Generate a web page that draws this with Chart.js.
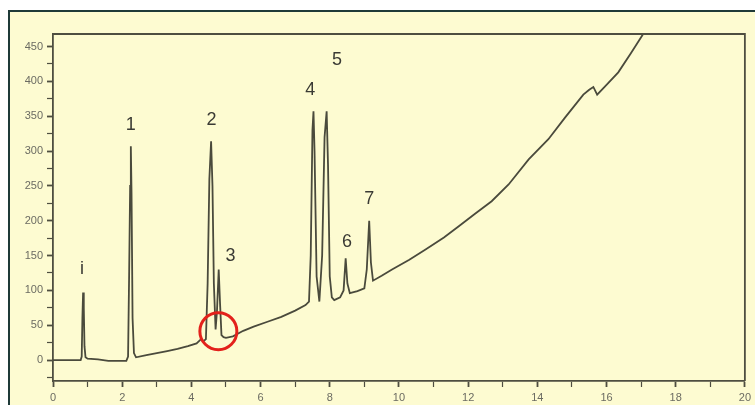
<!DOCTYPE html>
<html>
<head>
<meta charset="utf-8">
<script src="https://cdn.jsdelivr.net/npm/chart.js@4/dist/chart.umd.min.js"></script>
<style>
html,body{margin:0;padding:0;background:#fff;}
canvas{display:block;}
</style>
</head>
<body>
<canvas id="c" width="755" height="405"></canvas>
<script>
// retention time (min)
const times = [0.00,0.40,0.80,0.83,0.85,0.87,0.89,0.91,0.94,1.00,1.30,1.60,1.90,2.12,2.17,2.20,2.23,2.25,2.27,2.30,2.34,2.40,2.70,3.00,3.30,3.60,3.90,4.15,4.28,4.35,4.42,4.47,4.52,4.57,4.61,4.65,4.70,4.74,4.79,4.83,4.87,4.93,5.00,5.20,5.50,5.80,6.20,6.60,7.00,7.30,7.40,7.45,7.50,7.53,7.56,7.62,7.70,7.78,7.85,7.91,7.95,8.00,8.06,8.13,8.30,8.40,8.46,8.51,8.58,8.80,9.00,9.07,9.14,9.19,9.25,9.50,9.80,10.30,10.78,11.30,11.73,12.20,12.68,13.17,13.75,14.32,14.80,15.33,15.50,15.62,15.73,16.00,16.34,16.70,17.06,17.20];
// detector signal
const signal = [0,0,0,5,60,97,75,20,4,2,1,-1,-1,-1,5,120,250,307,240,60,10,4,7,10,13,16,20,24,30,27,30,110,260,314,250,110,44,70,130,80,36,33,32,34,42,48,55,62,71,79,84,150,330,357,300,120,84,150,320,357,280,120,90,86,90,100,146,110,96,99,103,130,200,140,114,121,130,144,159,176,192,210,228,252,288,317,348,381,388,392,381,395,413,440,468,480];
// peak labels and their anchor (time, signal)
const peakNames = ['i','1','2','3','4','5','6','7'];
const peakLabelX = [0.84,2.25,4.58,5.13,7.44,8.21,8.50,9.14];
const peakLabelY = [130,337,344,150,388,431,169,231];
// highlighted region (time, signal)
const markX = [4.78];
const markY = [41.5];
// axis ranges / ticks
const xMin = 0, xMax = 20, xStep = 1;
const yMin = -30, yMax = 468, yStep = 25;

const points = times.map((t,i)=>({x:t,y:signal[i]}));

const AXIS = '#4e4e40';
const TICKTXT = '#6b6b62';

const bgPlugin = {
  id:'bg',
  beforeDraw(chart){
    const ctx = chart.ctx;
    ctx.save();
    ctx.fillStyle = '#ffffff';
    ctx.fillRect(0,0,chart.width,chart.height);
    ctx.fillStyle = '#fdfbd1';
    ctx.fillRect(9,11,chart.width-9,chart.height-11);
    ctx.fillStyle = '#1f3a38';
    ctx.fillRect(8,10,chart.width-8,2);
    ctx.fillRect(8,10,2,chart.height-10);
    ctx.restore();
  },
  afterDatasetsDraw(chart){
    const ctx = chart.ctx, a = chart.chartArea;
    const xs = chart.scales.x, ys = chart.scales.y;
    ctx.save();
    ctx.strokeStyle = AXIS;
    ctx.lineWidth = 1.8;
    ctx.beginPath();
    ctx.moveTo(a.left, a.top);
    ctx.lineTo(a.right, a.top);
    ctx.lineTo(a.right, a.bottom);
    ctx.stroke();
    // peak labels
    ctx.fillStyle = '#3a3a34';
    ctx.font = '18px "Liberation Sans", Arial, sans-serif';
    ctx.textAlign = 'center';
    ctx.textBaseline = 'middle';
    peakNames.forEach((n,i)=>{
      ctx.fillText(n, xs.getPixelForValue(peakLabelX[i]), ys.getPixelForValue(peakLabelY[i]));
    });
    // red circle
    ctx.strokeStyle = '#e3211b';
    ctx.lineWidth = 3;
    markX.forEach((mx,i)=>{
      ctx.beginPath();
      ctx.arc(xs.getPixelForValue(mx), ys.getPixelForValue(markY[i]), 18.5, 0, Math.PI*2);
      ctx.stroke();
    });
    ctx.restore();
  }
};

new Chart(document.getElementById('c'), {
  type:'line',
  data:{datasets:[{
    data: points,
    borderColor:'#4a4a3c',
    borderWidth:1.8,
    pointRadius:0,
    tension:0,
    fill:false
  }]},
  options:{
    responsive:false,
    animation:false,
    devicePixelRatio:1,
    layout:{padding:{top:34,right:8,left:0,bottom:0}},
    plugins:{legend:{display:false},tooltip:{enabled:false}},
    scales:{
      x:{
        type:'linear', min:xMin, max:xMax,
        afterFit(s){ s.height = 24; },
        border:{display:true,color:AXIS,width:1.8},
        grid:{drawOnChartArea:false,drawTicks:true,tickLength:6,
          tickColor:(c)=> AXIS,
          tickWidth:(c)=> (c.tick && Math.round(c.tick.value)%2===0)?1.8:1.2},
        ticks:{stepSize:xStep, includeBounds:false, autoSkip:false, maxRotation:0, padding:4,
          color:TICKTXT, font:{size:11,family:'"Liberation Sans", Arial, sans-serif'},
          callback:(v)=> (Math.round(v)%2===0)? String(Math.round(v)) : ''}
      },
      y:{
        type:'linear', min:yMin, max:yMax,
        afterFit(s){ s.width = 53; },
        border:{display:true,color:AXIS,width:1.8},
        grid:{drawOnChartArea:false,drawTicks:true,tickLength:6,
          tickColor:(c)=> AXIS,
          tickWidth:(c)=> (c.tick && Math.round(c.tick.value)%50===0)?1.8:1.2},
        ticks:{stepSize:yStep, includeBounds:false, autoSkip:false, padding:4,
          color:TICKTXT, font:{size:11,family:'"Liberation Sans", Arial, sans-serif'},
          callback:(v)=> (Math.round(v)%50===0 && v>=0)? String(Math.round(v)) : ''}
      }
    }
  },
  plugins:[bgPlugin]
});
</script>
</body>
</html>
